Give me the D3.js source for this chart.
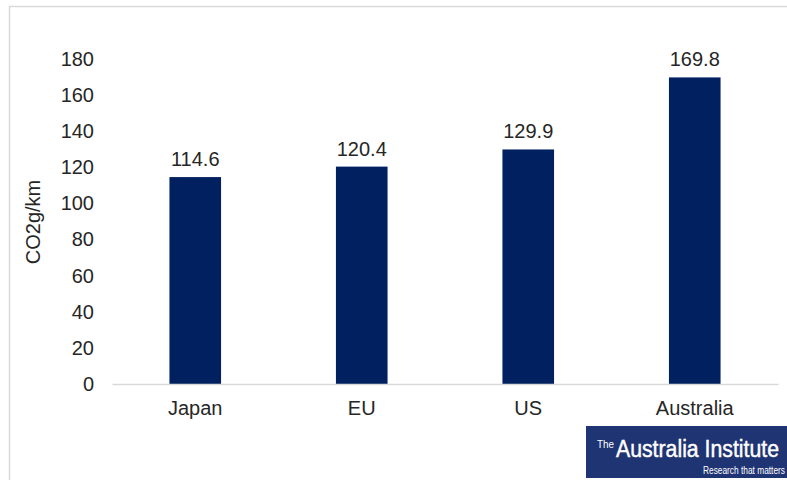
<!DOCTYPE html>
<html>
<head>
<meta charset="utf-8">
<script src="https://cdn.jsdelivr.net/npm/d3@7"></script>
<style>
  body { margin: 0; background: #fff; }
  text { font-family: "Liberation Sans", Arial, sans-serif; }
</style>
</head>
<body>
<script>
// chart data
var categories = ["Japan", "EU", "US", "Australia"];
var values = [114.6, 120.4, 129.9, 169.8];
var yTicks = [0, 20, 40, 60, 80, 100, 120, 140, 160, 180];
var yTitle = "CO2g/km";

var width = 787, height = 480;

var svg = d3.select("body").append("svg")
  .attr("width", width)
  .attr("height", height);

// chart frame (top + left edges visible)
svg.append("path")
  .attr("d", "M9.5,480 L9.5,6.5 L787,6.5")
  .attr("fill", "none")
  .attr("stroke", "#d9d9d9")
  .attr("stroke-width", 1.5);

var x = d3.scaleBand()
  .domain(categories)
  .range([112, 778])
  .paddingInner(0.69)
  .paddingOuter(0.345);

var y = d3.scaleLinear()
  .domain([0, 180])
  .range([384, 59]);

// y axis labels
var yAxis = svg.append("g")
  .attr("transform", "translate(94,0)")
  .call(d3.axisLeft(y).tickValues(yTicks).tickSize(0).tickPadding(0));
yAxis.select(".domain").remove();
yAxis.selectAll("text")
  .attr("font-size", 20)
  .attr("fill", "#262626");

svg.append("text")
  .attr("transform", "translate(40,222) rotate(-90)")
  .attr("text-anchor", "middle")
  .attr("font-size", 20)
  .attr("fill", "#262626")
  .text(yTitle);

// bars
svg.selectAll("rect.bar")
  .data(values)
  .enter()
  .append("rect")
  .attr("class", "bar")
  .attr("x", function(d, i) { return x(categories[i]); })
  .attr("y", function(d) { return y(d); })
  .attr("width", x.bandwidth())
  .attr("height", function(d) { return y(0) - y(d); })
  .attr("fill", "#002060");

// value labels
svg.selectAll("text.val")
  .data(values)
  .enter()
  .append("text")
  .attr("class", "val")
  .attr("x", function(d, i) { return x(categories[i]) + x.bandwidth() / 2; })
  .attr("y", function(d) { return y(d) - 11; })
  .attr("text-anchor", "middle")
  .attr("font-size", 20)
  .attr("fill", "#262626")
  .text(function(d) { return d.toFixed(1); });

// x axis line + labels
var xAxis = svg.append("g")
  .attr("transform", "translate(0,384)")
  .call(d3.axisBottom(x).tickSize(0).tickPadding(17));
xAxis.select(".domain")
  .attr("stroke", "#d9d9d9")
  .attr("stroke-width", 1.5);
xAxis.selectAll("text")
  .attr("font-size", 20)
  .attr("fill", "#262626");

// logo
var logo = svg.append("g");
logo.append("rect")
  .attr("x", 586)
  .attr("y", 426)
  .attr("width", 201)
  .attr("height", 52)
  .attr("fill", "#1f3473");
logo.append("text")
  .attr("x", 597)
  .attr("y", 448)
  .attr("fill", "#fff")
  .attr("font-size", 11)
  .attr("textLength", 17)
  .attr("lengthAdjust", "spacingAndGlyphs")
  .text("The");
logo.append("text")
  .attr("transform", "translate(616,457) scale(1,1.15)")
  .attr("fill", "#fff")
  .attr("font-size", 21)
  .attr("stroke", "#fff")
  .attr("stroke-width", 0.4)
  .attr("textLength", 163)
  .attr("lengthAdjust", "spacingAndGlyphs")
  .text("Australia Institute");
logo.append("text")
  .attr("transform", "translate(703,474) scale(1,1.25)")
  .attr("fill", "#fff")
  .attr("font-size", 8.4)
  .attr("textLength", 82)
  .attr("lengthAdjust", "spacingAndGlyphs")
  .text("Research that matters");
</script>
</body>
</html>
